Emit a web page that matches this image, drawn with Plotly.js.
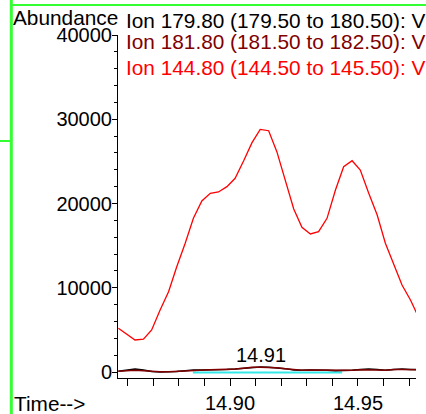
<!DOCTYPE html>
<html>
<head>
<meta charset="utf-8">
<script src="https://cdn.plot.ly/plotly-3.0.1.min.js"></script>
<style>html,body{margin:0;padding:0;background:#fff;}#chart{width:426px;height:414px;}</style>
</head>
<body>
<div id="chart"></div>
<script>
// Retention time (min)
const times = [14.8564, 14.8597, 14.8629, 14.8662, 14.8694, 14.8727, 14.8760, 14.8792, 14.8825, 14.8857,
  14.8890, 14.8923, 14.8955, 14.8988, 14.9020, 14.9053, 14.9086, 14.9118, 14.9151, 14.9183,
  14.9216, 14.9249, 14.9281, 14.9314, 14.9346, 14.9379, 14.9412, 14.9444, 14.9477, 14.9509,
  14.9542, 14.9575, 14.9607, 14.9640, 14.9672, 14.9705, 14.9738];
// Ion 144.80 abundance
const ion144 = [5190, 4500, 3800, 3900, 5000, 7360, 9530, 12500, 15280, 18240,
  20300, 21210, 21370, 22000, 22990, 25040, 27220, 28800, 28640, 26150,
  22790, 19350, 17170, 16380, 16650, 18240, 21600, 24370, 25080, 23980,
  21210, 18630, 15280, 12700, 10330, 8550, 6400];
// Ion 179.80 abundance
const ion179 = [100, 250, 350, 250, 50, 0, 0, 50, 150, 250,
  250, 250, 300, 300, 350, 450, 550, 600, 550, 500,
  400, 250, 200, 250, 250, 200, 150, 150, 200, 300,
  350, 300, 200, 300, 350, 300, 300];
// Ion 181.80 abundance
const ion181 = [80, 150, 200, 150, 50, 20, 30, 80, 150, 250,
  280, 280, 300, 320, 350, 450, 550, 550, 550, 500,
  400, 300, 200, 250, 250, 220, 200, 180, 200, 280,
  300, 250, 200, 300, 300, 250, 250];
// Integration baseline
const baseTimes = [14.8855, 14.9438];
const baseVals = [-60, -60];

const ionLabels = ["Ion 179.80 (179.50 to 180.50): V", "Ion 181.80 (181.50 to 182.50): V", "Ion 144.80 (144.50 to 145.50): V"];
const ionColors = ["#000000", "#800000", "#ff0000"];
const peakLabel = "14.91";
const peakTime = 14.912;
const peakY = 1980;

const FONT = "Liberation Sans, Arial, sans-serif";
const green = "#33ff33";

const traces = [
  {x: baseTimes, y: baseVals, mode: "lines", line: {color: "#33e8e8", width: 2}, hoverinfo: "skip"},
  {x: times, y: ion144, mode: "lines", line: {color: ionColors[2], width: 1.3}},
  {x: times, y: ion179, mode: "lines", line: {color: ionColors[0], width: 1.5}},
  {x: times, y: ion181, mode: "lines", line: {color: ionColors[1], width: 1.5}}
];

const L = 118, T = 35, R = 416, B = 378;
const W = R - L, H = B - T;
const px = v => (v - L) / W;
const py = v => (B - v) / H;

const annotations = [
  {text: "Abundance", x: px(11), y: py(17.5)},
  {text: ionLabels[0], x: px(124), y: py(20.3), color: ionColors[0]},
  {text: ionLabels[1], x: px(124), y: py(41.5), color: ionColors[1]},
  {text: ionLabels[2], x: px(124), y: py(67), color: ionColors[2]},
  {text: "Time-->", x: px(12), y: py(404)}
].map(a => ({
  text: a.text, x: a.x, y: a.y, xref: "paper", yref: "paper",
  xanchor: "left", yanchor: "middle", showarrow: false,
  font: {family: FONT, size: 20.8, color: a.color || "#000"}
}));
annotations.push({
  text: peakLabel, x: peakTime, y: peakY, xref: "x", yref: "y",
  xanchor: "center", yanchor: "middle", showarrow: false,
  font: {family: FONT, size: 20, color: "#000"}
});

const shapes = [
  {type: "line", xref: "paper", yref: "paper", x0: px(11.3), x1: px(11.3), y0: py(0), y1: py(414), line: {color: green, width: 3}},
  {type: "line", xref: "paper", yref: "paper", x0: px(10), x1: px(426), y0: py(5), y1: py(5), line: {color: green, width: 2}},
  {type: "line", xref: "paper", yref: "paper", x0: px(0), x1: px(10), y0: py(141), y1: py(141), line: {color: green, width: 2}}
];

const layout = {
  width: 426, height: 414,
  margin: {l: L, r: 426 - R, t: T, b: 414 - B, pad: 0},
  paper_bgcolor: "#fff", plot_bgcolor: "#fff",
  showlegend: false,
  font: {family: FONT, size: 20, color: "#000"},
  xaxis: {
    range: [14.85625, 14.97266], showgrid: false, zeroline: false,
    showline: true, linecolor: "#000", linewidth: 1,
    ticks: "outside", ticklen: 7, tickcolor: "#000", tickwidth: 1,
    tick0: 14.90, dtick: 0.05, tickformat: ".2f",
    tickfont: {family: FONT, size: 20, color: "#000"},
    minor: {tick0: 14.86, dtick: 0.01, ticks: "outside", ticklen: 7, tickcolor: "#000", tickwidth: 1, showgrid: false}
  },
  yaxis: {
    range: [-712, 40000], showgrid: false, zeroline: false,
    showline: true, linecolor: "#000", linewidth: 1,
    ticks: "outside", ticklen: 5, tickcolor: "#000", tickwidth: 1,
    tick0: 0, dtick: 10000, tickformat: "d", ticklabelstandoff: -4,
    tickfont: {family: FONT, size: 20, color: "#000"},
    minor: {dtick: 2000, ticks: "outside", ticklen: 3, tickcolor: "#000", tickwidth: 1, showgrid: false}
  },
  annotations: annotations,
  shapes: shapes
};

Plotly.newPlot("chart", traces, layout, {staticPlot: true, displayModeBar: false});
</script>
</body>
</html>
